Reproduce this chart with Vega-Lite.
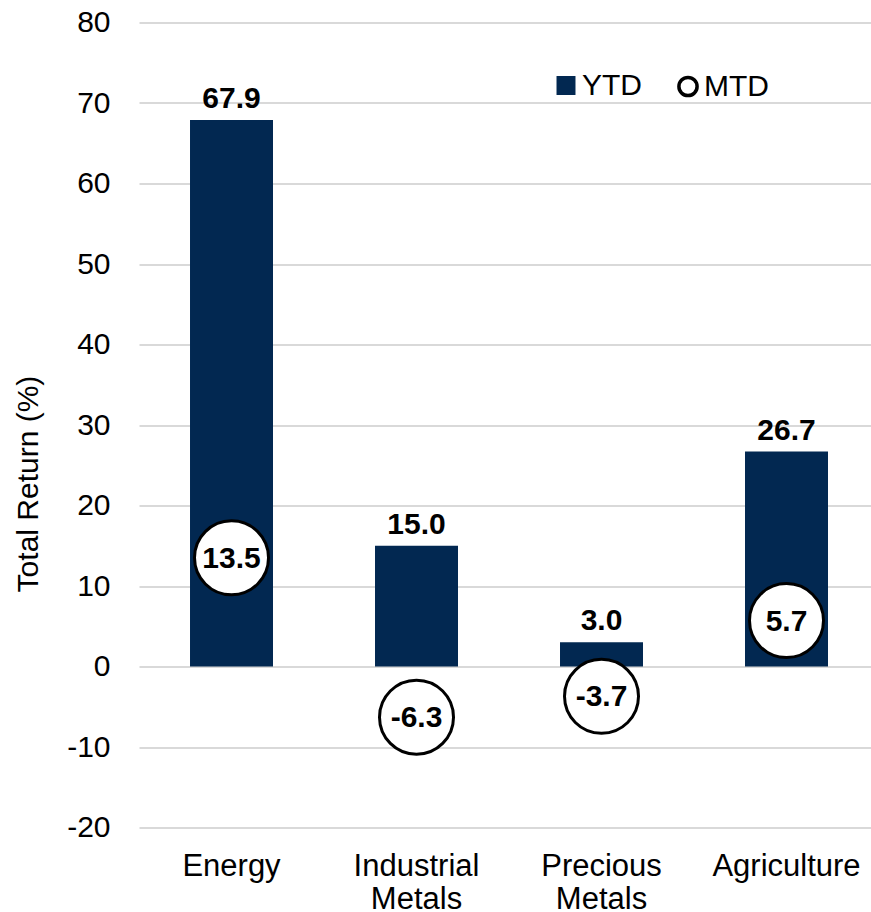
{
  "$schema": "https://vega.github.io/schema/vega-lite/v6.json",
  "autosize": {"type": "none"},
  "padding": {"left": 139, "top": 22.5, "right": 0, "bottom": 84.5},
  "width": 732,
  "height": 805,
  "background": "white",
  "config": {
    "view": {"stroke": null},
    "font": "Liberation Sans",
    "legend": {"padding": 0, "labelFont": "Liberation Sans", "labelFontSize": 30, "labelColor": "black", "title": null}
  },
  "data": {
    "values": [
      {"sector": "Energy", "ytd": 67.9, "mtd": 13.5},
      {"sector": "Industrial Metals", "ytd": 15.0, "mtd": -6.3},
      {"sector": "Precious Metals", "ytd": 3.0, "mtd": -3.7},
      {"sector": "Agriculture", "ytd": 26.7, "mtd": 5.7}
    ]
  },
  "encoding": {
    "x": {
      "field": "sector",
      "type": "nominal",
      "sort": null,
      "scale": {"paddingInner": 0.5514, "paddingOuter": 0.2541, "align": 0.5426},
      "axis": {
        "title": null,
        "domain": false,
        "ticks": false,
        "labelAngle": 0,
        "labelFont": "Liberation Sans",
        "labelFontSize": 31,
        "labelColor": "black",
        "labelPadding": 24,
        "labelLineHeight": 33,
        "labelExpr": "split(datum.label, ' ')"
      }
    }
  },
  "layer": [
    {
      "mark": {"type": "bar"},
      "encoding": {
        "y": {
          "field": "ytd",
          "type": "quantitative",
          "scale": {"domain": [-20, 80], "nice": false},
          "axis": {
            "title": "Total Return (%)",
            "values": [-20, -10, 0, 10, 20, 30, 40, 50, 60, 70, 80],
            "labelExpr": "replace(datum.label, '\u2212', '-')",
            "domain": false,
            "ticks": false,
            "grid": true,
            "gridColor": "#d9d9d9",
            "gridWidth": 2,
            "labelFont": "Liberation Sans",
            "labelFontSize": 30,
            "labelColor": "black",
            "labelPadding": 29,
            "titleFont": "Liberation Sans",
            "titleFontSize": 30,
            "titleFontWeight": "normal",
            "titleColor": "black",
            "titleAngle": -90,
            "titleX": -111,
            "titleY": 461,
            "titleAlign": "center",
            "titleBaseline": "middle"
          }
        },
        "color": {
          "datum": "YTD",
          "scale": {"range": ["#022851"]},
          "legend": {
            "orient": "none",
            "legendX": 412,
            "legendY": 48,
            "symbolType": "square",
            "symbolSize": 360,
            "labelOffset": 1
          }
        }
      }
    },
    {
      "mark": {"type": "rule", "color": "#7f7f7f", "strokeWidth": 2.5},
      "encoding": {"y": {"datum": 0}}
    },
    {
      "mark": {"type": "point", "filled": false, "fill": "white", "fillOpacity": 1, "stroke": "black", "strokeWidth": 3, "size": 5476, "opacity": 1},
      "encoding": {
        "y": {"field": "mtd", "type": "quantitative"},
        "shape": {
          "datum": "MTD",
          "scale": {"range": ["circle"]},
          "legend": {
            "orient": "none",
            "legendX": 534,
            "legendY": 49,
            "symbolSize": 330,
            "symbolStrokeWidth": 3.5,
            "labelOffset": 1
          }
        }
      }
    },
    {
      "mark": {"type": "text", "font": "Liberation Sans", "fontSize": 30, "fontWeight": "bold", "color": "black", "baseline": "alphabetic", "dy": -12, "text": {"expr": "replace(format(datum.ytd, '.1f'), '\u2212', '-')"}},
      "encoding": {
        "y": {"field": "ytd", "type": "quantitative"}
      }
    },
    {
      "mark": {"type": "text", "font": "Liberation Sans", "fontSize": 30, "fontWeight": "bold", "color": "black", "baseline": "middle", "dy": 1, "text": {"expr": "replace(format(datum.mtd, '.1f'), '\u2212', '-')"}},
      "encoding": {
        "y": {"field": "mtd", "type": "quantitative"}
      }
    }
  ]
}
